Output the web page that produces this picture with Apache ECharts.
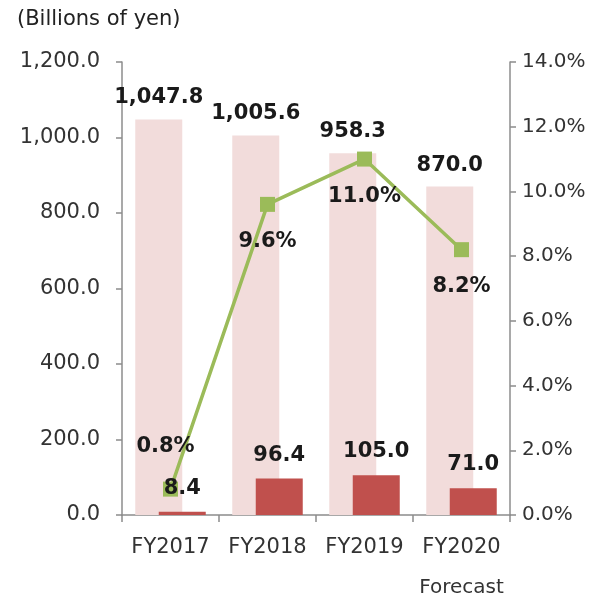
<!DOCTYPE html>
<html><head><meta charset="utf-8">
<script src="https://cdn.jsdelivr.net/npm/echarts@6/dist/echarts.min.js"></script>
<style>html,body{margin:0;padding:0;background:#fff}#c{width:595px;height:598px}</style>
</head><body><div id="c"></div>
<script>
const categories = ['FY2017', 'FY2018', 'FY2019', 'FY2020'];
const revenue = [1047.8, 1005.6, 958.3, 870.0];
const operatingIncome = [8.4, 96.4, 105.0, 71.0];
const margin = [0.8, 9.6, 11.0, 8.2];
const leftTicks = [0, 200, 400, 600, 800, 1000, 1200];
const rightTicks = [0, 2, 4, 6, 8, 10, 12, 14];
const marginLabelPos = ['top', 'bottom', 'bottom', 'bottom'];

const FONT = 'DejaVu Sans';
const fmt1 = v => v.toLocaleString('en-US', {minimumFractionDigits: 1, maximumFractionDigits: 1});

const chart = echarts.init(document.getElementById('c'), null, {renderer: 'canvas'});
chart.setOption({
  animation: false,
  textStyle: {fontFamily: FONT},
  title: {text: '(Billions of yen)', left: 12, top: 4,
    textStyle: {fontFamily: FONT, fontSize: 21, fontWeight: 'normal', color: '#222'}},
  grid: {left: 122, right: 85, top: 62, bottom: 83},
  xAxis: {type: 'category', data: categories,
    axisLine: {lineStyle: {color: '#8c8c8c', width: 1.5}},
    axisTick: {show: true, length: 7, lineStyle: {color: '#8c8c8c', width: 1.5}},
    axisLabel: {interval: 0, fontFamily: FONT, fontSize: 21, color: '#333', margin: 22,
      formatter: (v, i) => i === 3 ? v + '\n{f|Forecast}' : v,
      rich: {f: {fontFamily: FONT, fontSize: 20, color: '#333', padding: [20, 0, 0, 0]}}}
  },
  yAxis: [
    {type: 'value', min: 0, max: 1200, interval: 200,
      axisLine: {show: true, lineStyle: {color: '#8c8c8c', width: 1.5}},
      axisTick: {show: true, length: 6, lineStyle: {color: '#8c8c8c', width: 1.5}},
      splitLine: {show: false},
      axisLabel: {fontFamily: FONT, fontSize: 21, color: '#333', margin: 22, formatter: v => fmt1(v)}},
    {type: 'value', min: 0, max: 14, interval: 2,
      axisLine: {show: true, lineStyle: {color: '#8c8c8c', width: 1.5}},
      axisTick: {show: true, length: 6, lineStyle: {color: '#8c8c8c', width: 1.5}},
      splitLine: {show: false},
      axisLabel: {fontFamily: FONT, fontSize: 20, color: '#333', margin: 12, formatter: v => v.toFixed(1) + '%'}}
  ],
  series: [
    {type: 'bar', data: revenue, barWidth: 47, barGap: '-50%', z: 2,
      itemStyle: {color: '#f2dcdb'},
      label: {show: true, position: 'top', distance: 11, fontFamily: FONT, fontSize: 21, fontWeight: 'bold', color: '#1a1a1a', formatter: p => fmt1(p.value)}},
    {type: 'bar', data: operatingIncome, barWidth: 47, z: 6,
      itemStyle: {color: '#c0504d'},
      label: {show: true, position: 'top', distance: 13, fontFamily: FONT, fontSize: 21, fontWeight: 'bold', color: '#1a1a1a', formatter: p => fmt1(p.value)}},
    {type: 'line', yAxisIndex: 1, z: 4,
      data: margin.map((v, i) => ({value: v, label: {position: marginLabelPos[i], distance: marginLabelPos[i] === 'top' ? 25 : 19, offset: i === 0 ? [-5, 0] : [0, 0]}})),
      symbol: 'rect', symbolSize: 15,
      lineStyle: {color: '#9bbb59', width: 3.5},
      itemStyle: {color: '#9bbb59'},
      label: {show: true, fontFamily: FONT, fontSize: 21, fontWeight: 'bold', color: '#1a1a1a', formatter: p => p.value.toFixed(1) + '%'}}
  ]
});
</script></body></html>
